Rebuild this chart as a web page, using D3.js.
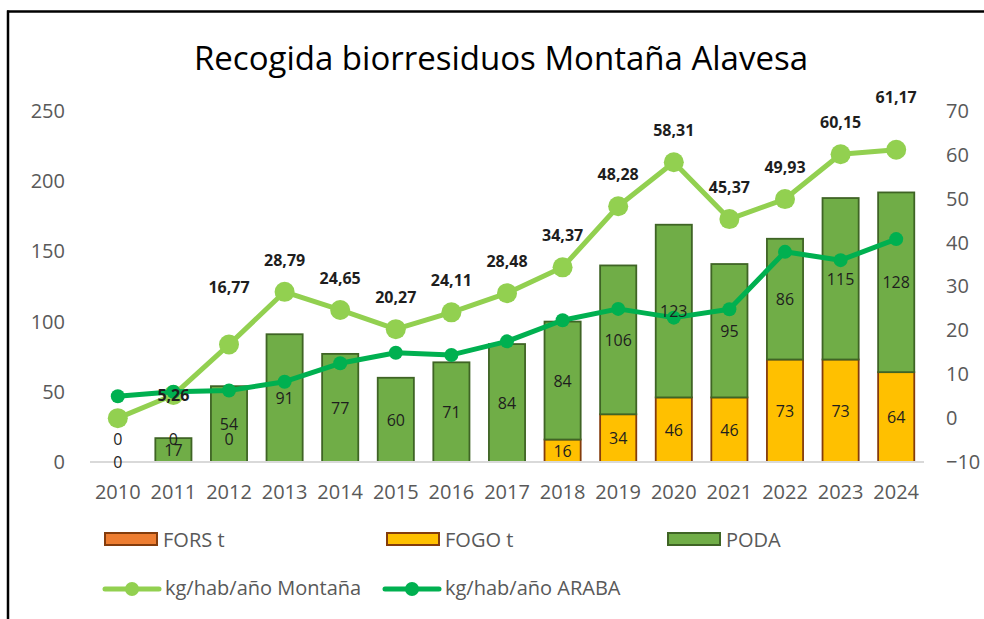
<!DOCTYPE html>
<html>
<head>
<meta charset="utf-8">
<script src="https://cdn.jsdelivr.net/npm/d3@7"></script>
<style>
  body { margin: 0; background: #fff; }
  svg { display: block; font-family: 'Open Sans', 'Noto Sans', sans-serif; }
</style>
</head>
<body>
<svg id="chart" width="984" height="619"></svg>
<script>
// Years on the category axis
const years = [2010, 2011, 2012, 2013, 2014, 2015, 2016, 2017, 2018, 2019, 2020, 2021, 2022, 2023, 2024];

// Tonnes collected per stream (null = no data for that year)
const forsT = [0, 0, 0, null, null, null, null, null, null, null, null, null, null, null, null];
const fogoT = [null, null, null, null, null, null, null, null, 16, 34, 46, 46, 73, 73, 64];
const podaT = [0, 17, 54, 91, 77, 60, 71, 84, 84, 106, 123, 95, 86, 115, 128];

// kg per inhabitant per year
const kgMontana = [0, 5.26, 16.77, 28.79, 24.65, 20.27, 24.11, 28.48, 34.37, 48.28, 58.31, 45.37, 49.93, 60.15, 61.17];
const kgAraba = [5.0, 6.0, 6.3, 8.3, 12.5, 14.9, 14.4, 17.5, 22.3, 24.9, 22.9, 24.8, 37.9, 36.0, 40.8];

// Axis ticks
const leftTicks = [0, 50, 100, 150, 200, 250];
const rightTicks = [-10, 0, 10, 20, 30, 40, 50, 60, 70];

const svg = d3.select('#chart');
const W = 984, H = 619;
const plot = { left: 90, right: 924, top: 111, bottom: 462 };

const colors = {
  fors: '#ED7D31', forsLine: '#843C0C',
  fogo: '#FFC000', fogoLine: '#843C0C',
  poda: '#70AD47', podaLine: '#3F6425',
  montana: '#92D050', araba: '#00B050',
  axisText: '#595959', label: '#1e1e1e'
};

// Frame (left and top edges)
svg.append('line').attr('x1', 8).attr('x2', 8).attr('y1', 10.5).attr('y2', H)
  .attr('stroke', '#000').attr('stroke-width', 2.5);
svg.append('line').attr('x1', 7).attr('x2', W).attr('y1', 11.5).attr('y2', 11.5)
  .attr('stroke', '#000').attr('stroke-width', 2.5);

// Title
svg.append('text').attr('x', 501).attr('y', 57).attr('text-anchor', 'middle')
  .attr('dominant-baseline', 'central').attr('font-size', 33).attr('fill', '#000')
  .text('Recogida biorresiduos Montaña Alavesa');

// Scales
const x = d3.scaleBand().domain(years).range([plot.left, plot.right])
  .paddingInner(0.35).paddingOuter(0.175);
const yL = d3.scaleLinear().domain([0, 250]).range([plot.bottom, plot.top]);
const yR = d3.scaleLinear().domain([-10, 70]).range([plot.bottom, plot.top]);

// Left axis
const axL = svg.append('g').attr('transform', `translate(${plot.left - 25},0)`)
  .call(d3.axisLeft(yL).tickValues(leftTicks).tickSize(0).tickPadding(0));
axL.select('.domain').remove();
axL.selectAll('text').attr('font-size', 20).attr('fill', colors.axisText)
  .attr('font-family', "'Open Sans', sans-serif");

// Right axis
const axR = svg.append('g').attr('transform', `translate(${plot.right + 22},0)`)
  .call(d3.axisRight(yR).tickValues(rightTicks).tickSize(0).tickPadding(0));
axR.select('.domain').remove();
axR.selectAll('text').attr('font-size', 20).attr('fill', colors.axisText)
  .attr('font-family', "'Open Sans', sans-serif");

// Stacked bars: FORS at the bottom, then FOGO, then PODA
const rows = years.map((yr, i) => ({ yr, fors: forsT[i] || 0, fogo: fogoT[i] || 0, poda: podaT[i] || 0 }));
const stack = d3.stack().keys(['fors', 'fogo', 'poda'])(rows);
const strokeOf = { fors: colors.forsLine, fogo: colors.fogoLine, poda: colors.podaLine };
const raw = { fors: forsT, fogo: fogoT, poda: podaT };

stack.forEach(layer => {
  svg.append('g').selectAll('rect').data(layer.filter(d => d[1] - d[0] > 0)).join('rect')
    .attr('x', d => x(d.data.yr))
    .attr('width', x.bandwidth())
    .attr('y', d => yL(d[1]))
    .attr('height', d => yL(d[0]) - yL(d[1]))
    .attr('fill', colors[layer.key])
    .attr('stroke', strokeOf[layer.key])
    .attr('stroke-width', 1.8);
});

// Baseline
svg.append('line').attr('x1', plot.left).attr('x2', plot.right)
  .attr('y1', yL(0)).attr('y2', yL(0)).attr('stroke', '#D9D9D9').attr('stroke-width', 2);

// Category labels
svg.append('g').selectAll('text').data(years).join('text')
  .attr('x', d => x(d) + x.bandwidth() / 2).attr('y', 491)
  .attr('text-anchor', 'middle').attr('dominant-baseline', 'central')
  .attr('font-size', 20).attr('fill', colors.axisText).text(d => d);

// Lines on the secondary axis
const cx = i => x(years[i]) + x.bandwidth() / 2;
const lineGen = d3.line().x((d, i) => cx(i)).y(d => yR(d));

function drawSeries(values, color, width, r) {
  svg.append('path').datum(values).attr('d', lineGen)
    .attr('fill', 'none').attr('stroke', color).attr('stroke-width', width)
    .attr('stroke-linejoin', 'round').attr('stroke-linecap', 'round');
  svg.append('g').selectAll('circle').data(values).join('circle')
    .attr('cx', (d, i) => cx(i)).attr('cy', d => yR(d)).attr('r', r).attr('fill', color);
}
drawSeries(kgMontana, colors.montana, 5, 10);
drawSeries(kgAraba, colors.araba, 5, 7);

// Bar segment labels
const fmt = v => String(v).replace('.', ',');
const segLabels = svg.append('g').attr('font-size', 16).attr('fill', colors.label)
  .attr('text-anchor', 'middle').attr('dominant-baseline', 'central');
stack.forEach(layer => {
  layer.forEach((d, i) => {
    const v = raw[layer.key][i];
    if (v === null || v === undefined) return;
    let yPos = yL((d[0] + d[1]) / 2);
    // empty FORS segments carry their label just above the baseline
    if (layer.key === 'fors' && v === 0) yPos = yL(0) - 23;
    segLabels.append('text').attr('x', cx(i)).attr('y', yPos).text(fmt(v));
  });
});

// Value labels for the Montaña line
const lift = i => (i === 1 ? 0 : i === 2 ? 58 : i === 14 ? 53 : 32);
const montanaPts = kgMontana.map((v, i) => ({ v, i })).filter(p => p.v > 0);
svg.append('g').attr('font-size', 16).attr('font-weight', 700).attr('fill', colors.label)
  .attr('text-anchor', 'middle').attr('dominant-baseline', 'central')
  .selectAll('text').data(montanaPts).join('text')
  .attr('x', p => cx(p.i)).attr('y', p => yR(p.v) - lift(p.i))
  .text(p => p.v.toFixed(2).replace('.', ','));

// Legend
const lg = svg.append('g').attr('font-size', 20).attr('fill', colors.axisText);
const boxes = [
  { label: 'FORS t', fill: colors.fors, stroke: colors.forsLine, x: 104 },
  { label: 'FOGO t', fill: colors.fogo, stroke: colors.fogoLine, x: 386 },
  { label: 'PODA', fill: colors.poda, stroke: colors.podaLine, x: 667 }
];
boxes.forEach(b => {
  lg.append('rect').attr('x', b.x + 1).attr('y', 533).attr('width', 52).attr('height', 12)
    .attr('fill', b.fill).attr('stroke', b.stroke).attr('stroke-width', 2);
  lg.append('text').attr('x', b.x + 59).attr('y', 539).attr('dominant-baseline', 'central').text(b.label);
});
const lines = [
  { label: 'kg/hab/año Montaña', color: colors.montana, x: 103, r: 7 },
  { label: 'kg/hab/año ARABA', color: colors.araba, x: 383, r: 7 }
];
lines.forEach(l => {
  lg.append('line').attr('x1', l.x + 2).attr('x2', l.x + 56).attr('y1', 589).attr('y2', 589)
    .attr('stroke', l.color).attr('stroke-width', 5).attr('stroke-linecap', 'round');
  lg.append('circle').attr('cx', l.x + 29).attr('cy', 589).attr('r', l.r).attr('fill', l.color);
  lg.append('text').attr('x', l.x + 62).attr('y', 587).attr('dominant-baseline', 'central').text(l.label);
});
</script>
</body>
</html>
